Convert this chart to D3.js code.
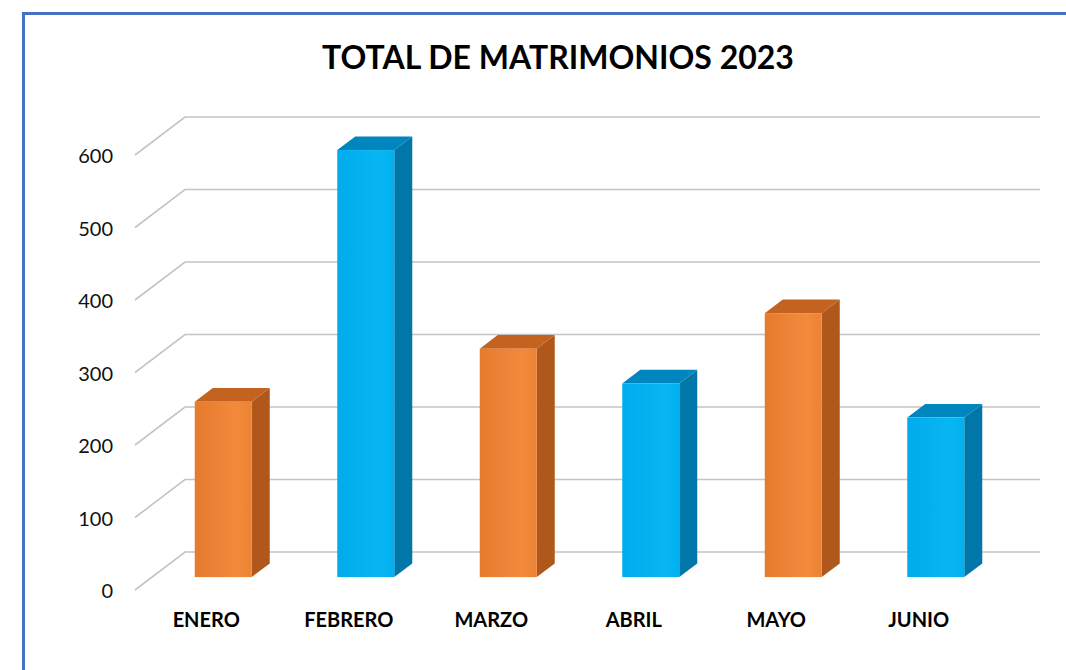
<!DOCTYPE html>
<html>
<head>
<meta charset="utf-8">
<script src="https://cdn.jsdelivr.net/npm/d3@7"></script>
<style>
    body { margin: 0; background: #fff; }
    svg { display: block; font-family: Lato, 'Open Sans', sans-serif; }
</style>
</head>
<body>
<div id="chart"></div>
<script>
const WIDTH = 1066;
const HEIGHT = 670;

// Data
const months = ['ENERO', 'FEBRERO', 'MARZO', 'ABRIL', 'MAYO', 'JUNIO'];
const totals = [242, 589, 315, 267, 364, 220];
const barColors = ['orange', 'blue', 'orange', 'blue', 'orange', 'blue'];
const yTicks = [0, 100, 200, 300, 400, 500, 600];
const title = 'TOTAL DE MATRIMONIOS 2023';

// Faces of each colour: front, side, top
const palette = {
    orange: { front: ['#E67A2E', '#F28A3C', '#EC8232'], side: '#B0581B', top: '#C4631F' },
    blue: { front: ['#00ACEC', '#08B6F2', '#00B0F0'], side: '#0077A8', top: '#0086BE' }
};

// 3D depth of the floor, from back wall towards the viewer
const DEPTH = { dx: -50, dy: 38 };
const BAR_FRONT = 0.66;
const BAR_BACK = 0.30;

const svg = d3.select('#chart').append('svg')
    .attr('width', WIDTH)
    .attr('height', HEIGHT);

const defs = svg.append('defs');
Object.entries(palette).forEach(([name, p]) => {
    const grad = defs.append('linearGradient')
        .attr('id', `front-${name}`)
        .attr('x1', 0).attr('x2', 1).attr('y1', 0).attr('y2', 0);
    grad.append('stop').attr('offset', '0%').attr('stop-color', p.front[0]);
    grad.append('stop').attr('offset', '75%').attr('stop-color', p.front[1]);
    grad.append('stop').attr('offset', '100%').attr('stop-color', p.front[2]);
});

// frame
svg.append('path')
    .attr('d', `M23.5,${HEIGHT} V13.5 H${WIDTH}`)
    .attr('fill', 'none')
    .attr('stroke', '#4472C4')
    .attr('stroke-width', 3);

svg.append('text')
    .attr('x', 558)
    .attr('y', 69)
    .attr('text-anchor', 'middle')
    .attr('font-size', 32)
    .attr('font-weight', 'bold')
    .attr('fill', '#000')
    .text(title);

// scales on the back wall
const x = d3.scaleBand()
    .domain(months)
    .range([185, 1040])
    .paddingInner(0.6)
    .paddingOuter(0.3);

const y = d3.scaleLinear()
    .domain([0, 600])
    .range([552, 117]);

const xLeft = x.range()[0];
const xRight = x.range()[1];

// gridlines: depth segment on the side + line on the back wall
const grid = svg.append('g').attr('class', 'grid');
grid.selectAll('path')
    .data(yTicks)
    .join('path')
    .attr('d', t => `M${xLeft + DEPTH.dx},${y(t) + DEPTH.dy} L${xLeft},${y(t)} H${xRight}`)
    .attr('fill', 'none')
    .attr('stroke', '#C4C4C4')
    .attr('stroke-width', 1.6);

svg.append('g').attr('class', 'y-labels')
    .selectAll('text')
    .data(yTicks)
    .join('text')
    .attr('x', 113)
    .attr('y', t => y(t) + DEPTH.dy + 8)
    .attr('text-anchor', 'end')
    .attr('font-size', 20)
    .attr('fill', '#111')
    .text(t => t);

// bars
const offset = (d) => ({ dx: DEPTH.dx * d, dy: DEPTH.dy * d });
const f = offset(BAR_FRONT);
const b = offset(BAR_BACK);

const bars = svg.append('g').attr('class', 'bars')
    .selectAll('g')
    .data(months.map((m, i) => ({ month: m, value: totals[i], color: barColors[i] })))
    .join('g');

bars.each(function (d) {
    const g = d3.select(this);
    const p = palette[d.color];
    const x0 = x(d.month);
    const x1 = x0 + x.bandwidth();
    const top = y(d.value);
    const base = y(0);

    // side face
    g.append('path')
        .attr('d', `M${x1 + f.dx},${top + f.dy} L${x1 + b.dx},${top + b.dy} L${x1 + b.dx},${base + b.dy} L${x1 + f.dx},${base + f.dy} Z`)
        .attr('fill', p.side);

    // top face
    g.append('path')
        .attr('d', `M${x0 + f.dx},${top + f.dy} L${x0 + b.dx},${top + b.dy} L${x1 + b.dx},${top + b.dy} L${x1 + f.dx},${top + f.dy} Z`)
        .attr('fill', p.top);

    // front face
    g.append('rect')
        .attr('x', x0 + f.dx)
        .attr('y', top + f.dy)
        .attr('width', x.bandwidth())
        .attr('height', base - top)
        .attr('fill', `url(#front-${d.color})`);
});

// category labels at the front edge of the floor
svg.append('g').attr('class', 'x-labels')
    .selectAll('text')
    .data(months)
    .join('text')
    .attr('x', m => x(m) + x.bandwidth() / 2 + DEPTH.dx)
    .attr('y', 627)
    .attr('text-anchor', 'middle')
    .attr('font-size', 20)
    .attr('font-weight', 'bold')
    .attr('fill', '#000')
    .text(m => m);
</script>
</body>
</html>
